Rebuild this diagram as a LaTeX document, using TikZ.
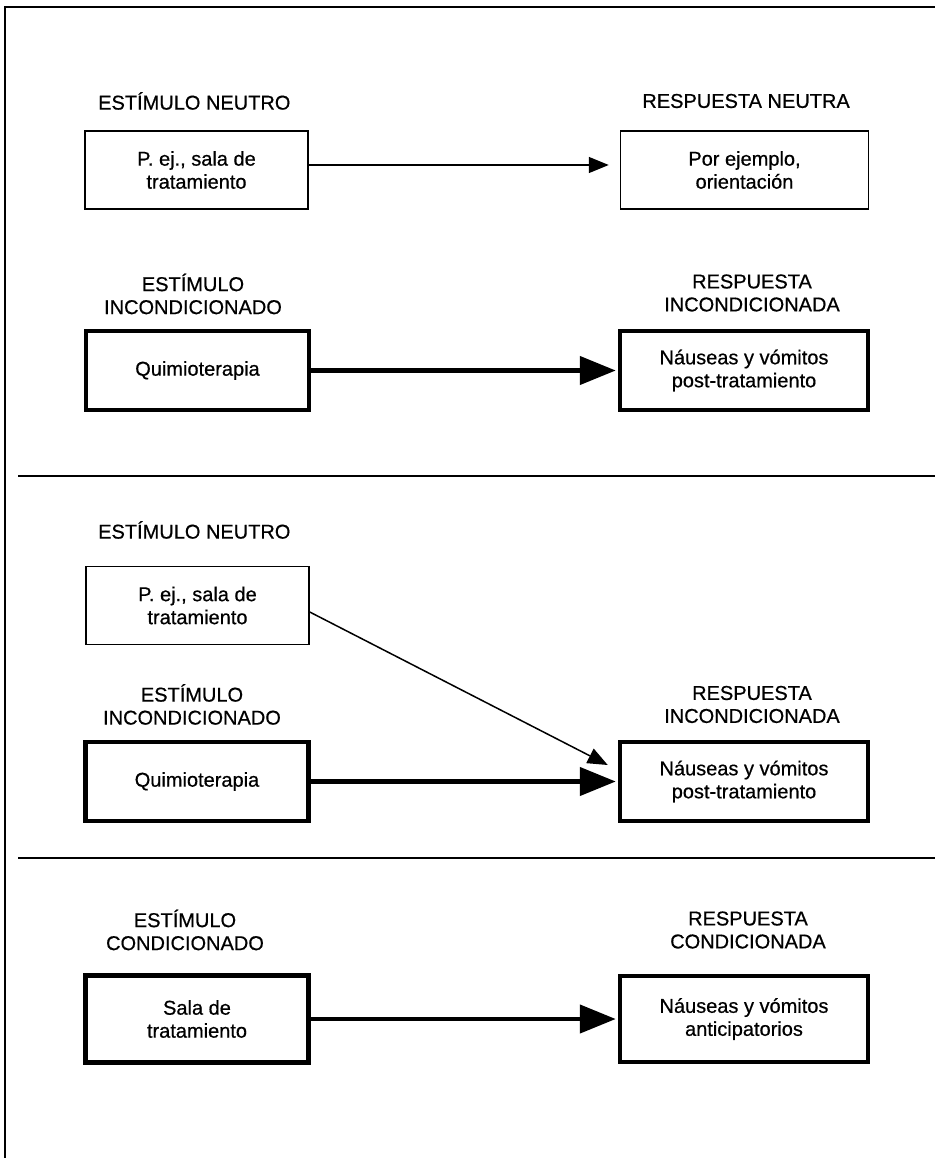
\documentclass[tikz,border=0pt]{standalone}
\usepackage{fontspec}
\setmainfont[FakeBold=0.6]{Liberation Sans}
\usetikzlibrary{arrows.meta}
\begin{document}
\begin{tikzpicture}[x=1pt,y=-1pt,
  txt/.style={font=\fontsize{20}{23}\selectfont, align=center},
  lbl/.style={txt, inner sep=0pt},
  thinbox/.style={txt, draw, line width=1.5pt, inner sep=0pt, minimum height=78pt},
  thickbox/.style={txt, draw, line width=4.5pt, inner sep=0pt, minimum height=79pt},
  leftbox/.style={minimum width=223pt},
  rightbox/.style={minimum width=248pt},
  thinarrow/.style={line width=1.5pt, -{Triangle[length=20pt,width=16pt]}},
  thickarrow/.style={line width=4.5pt, -{Triangle[length=36pt,width=28pt]}},
  frame/.style={line width=2pt}]
\useasboundingbox (0,0) rectangle (935,1158);
% frame and dividers
\coordinate (fb) at (5,1158);
\coordinate (fc) at (5,7);
\coordinate (fr) at (935,7);
\draw[frame] (fb) -- (fc) -- (fr);
\coordinate (d1a) at (18,476);
\coordinate (d1b) at (935,476);
\coordinate (d2a) at (18,858);
\coordinate (d2b) at (935,858);
\draw[frame] (d1a) -- (d1b);
\draw[frame] (d2a) -- (d2b);
% section 1
\node[lbl, anchor=west] (l1) at (98,101) {ESTÍMULO NEUTRO};
\node[lbl, anchor=east] (r1) at (850,101) {RESPUESTA NEUTRA};
\node[thinbox, leftbox] (b1) at (196.5,170) {P. ej., sala de\\tratamiento};
\node[thinbox, rightbox] (b2) at (744.5,170) {Por ejemplo,\\orientación};
\draw[thinarrow] ([yshift=5pt]b1.east) -- ([xshift=-11pt,yshift=5pt]b2.west);
\node[lbl] (l2) at (193,294) {ESTÍMULO\\INCONDICIONADO};
\node[lbl] (r2) at (752,293) {RESPUESTA\\INCONDICIONADA};
\node[thickbox, leftbox] (b3) at (197.5,370.5) {Quimioterapia};
\node[thickbox, rightbox] (b4) at (744,370.5) {Náuseas y vómitos\\post-tratamiento};
\draw[thickarrow] (b3.east) -- ([xshift=-2pt]b4.west);
% section 2
\node[lbl, anchor=west] (l3) at (98,530) {ESTÍMULO NEUTRO};
\node[thinbox, leftbox] (b5) at (197.5,605.5) {P. ej., sala de\\tratamiento};
\node[lbl] (l4) at (192,704.5) {ESTÍMULO\\INCONDICIONADO};
\node[lbl] (r4) at (752,704.5) {RESPUESTA\\INCONDICIONADA};
\node[thickbox, leftbox] (b6) at (197,781.5) {Quimioterapia};
\node[thickbox, rightbox] (b7) at (744,781.5) {Náuseas y vómitos\\post-tratamiento};
\draw[thickarrow] (b6.east) -- ([xshift=-2pt]b7.west);
\coordinate (t2) at ([xshift=-10pt,yshift=16.5pt]b7.west);
\draw[thinarrow] ([yshift=-6.5pt]b5.east) -- (t2);
% section 3
\node[lbl] (l5) at (185,930) {ESTÍMULO\\CONDICIONADO};
\node[lbl] (r5) at (748,930) {RESPUESTA\\CONDICIONADA};
\node[thickbox, leftbox, minimum height=87pt] (b8) at (197,1019) {Sala de\\tratamiento};
\node[thickbox, rightbox, minimum height=86pt] (b9) at (744,1019) {Náuseas y vómitos\\anticipatorios};
\draw[thickarrow] (b8.east) -- ([xshift=-2pt]b9.west);
\end{tikzpicture}
\end{document}
